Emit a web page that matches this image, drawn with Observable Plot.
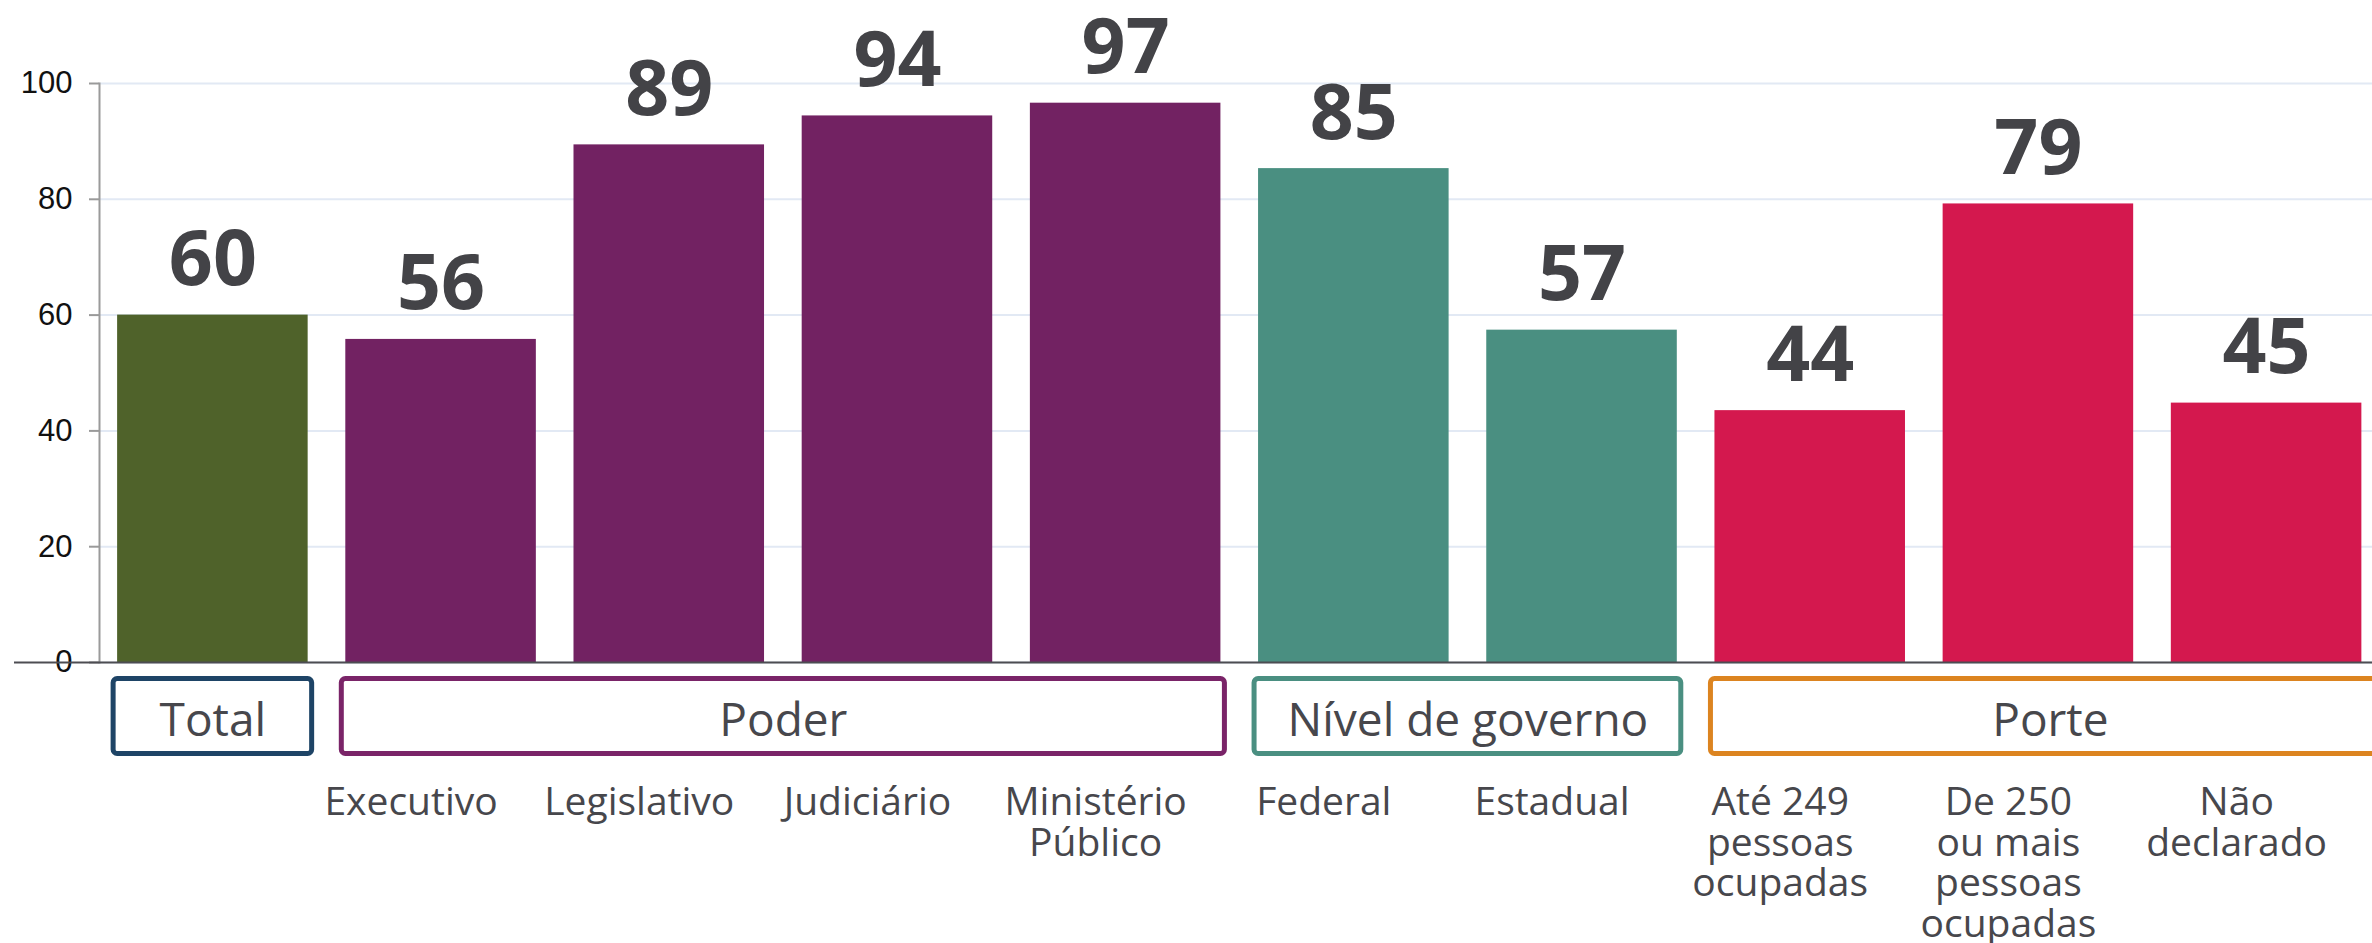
<!DOCTYPE html>
<html>
<head>
<meta charset="utf-8">
<script src="https://cdn.jsdelivr.net/npm/d3@7"></script>
<script src="https://cdn.jsdelivr.net/npm/@observablehq/plot@0.6"></script>
<style>
  html, body { margin: 0; padding: 0; background: #ffffff; overflow: hidden; }
</style>
</head>
<body>
<div id="chart"></div>
<script>
// ---- data ----
const categories = ["Total", "Executivo", "Legislativo", "Judiciário", "Ministério Público",
  "Federal", "Estadual", "Até 249 pessoas ocupadas", "De 250 ou mais pessoas ocupadas", "Não declarado"];
const bottomLabels = ["", "Executivo", "Legislativo", "Judiciário", "Ministério\nPúblico",
  "Federal", "Estadual", "Até 249\npessoas\nocupadas", "De 250\nou mais\npessoas\nocupadas", "Não\ndeclarado"];
const values = [60.0, 55.8, 89.4, 94.4, 96.6, 85.3, 57.4, 43.5, 79.2, 44.8];
const valueLabels = ["60", "56", "89", "94", "97", "85", "57", "44", "79", "45"];
const categoryGroup = ["Total", "Poder", "Poder", "Poder", "Poder",
  "Nível de governo", "Nível de governo", "Porte", "Porte", "Porte"];
const groupNames = ["Total", "Poder", "Nível de governo", "Porte"];
const groupBarColors = ["#4f622a", "#722262", "#4a8f81", "#d4184e"];
const groupBoxColors = ["#1e4466", "#7a2468", "#4a8f81", "#dc8420"];
const yTicks = [0, 20, 40, 60, 80, 100];

// ---- tables built from the arrays ----
const data = categories.map((c, i) => ({
  category: c, value: values[i], label: valueLabels[i], bottom: bottomLabels[i],
  group: categoryGroup[i], color: groupBarColors[groupNames.indexOf(categoryGroup[i])]
}));
const groups = groupNames.map((g, i) => {
  const members = data.filter(d => d.group === g);
  return {name: g, first: members[0].category, last: members[members.length - 1].category, box: groupBoxColors[i]};
});
const openGroups = groups.filter(g => g.name !== "Porte");
const lastGroup = groups.filter(g => g.name === "Porte");

const textFont = "'Open Sans', 'Noto Sans', sans-serif";
const textColor = "#47474c";

// centre a group label between its first and last band
function centerOnGroup(src) {
  return (index, scales, vals, dims, ctx, next) => {
    const sx = scales.x;
    const x = Array.from(vals.x, (v, i) => v + (sx(src[i].last) - sx(src[i].first)) / 2);
    return next(index, scales, {...vals, x}, dims, ctx);
  };
}

const boxStyle = {
  x1: "first", x2: "last", y1: 0, y2: 0,
  insetTop: 16.5, insetBottom: -91.5, insetLeft: -4,
  rx: 4, fill: "none", stroke: "box", strokeWidth: 5
};
const groupTextStyle = {
  x: "first", text: "name", frameAnchor: "bottom", lineAnchor: "bottom", dy: 73,
  fontSize: 46, fontFamily: textFont, fill: textColor
};

const chart = Plot.plot({
  width: 2372,
  height: 943,
  marginLeft: 99,
  marginRight: 0,
  marginTop: 83,
  marginBottom: 281,
  style: {background: "#ffffff", fontFamily: textFont},
  x: {domain: categories, paddingInner: 0.165, paddingOuter: 0.063, align: 0.63, round: false, axis: null},
  y: {domain: [0, 100], label: null},
  color: {type: "identity"},
  marks: [
    Plot.gridY(yTicks, {stroke: "#e2e9f4", strokeOpacity: 1, strokeWidth: 2}),
    Plot.frame({anchor: "left", stroke: "#9a9a9a", strokeWidth: 2}),
    Plot.barY(data, {x: "category", y: "value", fill: "color"}),
    Plot.axisY({
      ticks: yTicks, tickSize: 10, tickPadding: 17, label: null,
      fontSize: 31, fontFamily: "'Liberation Sans', Arial, sans-serif",
      fill: "#111111", stroke: "#9a9a9a", strokeWidth: 2
    }),
    Plot.ruleY([0], {insetLeft: -85, stroke: "#4d4d52", strokeWidth: 2}),
    Plot.text(data, {
      x: "category", y: "value", text: "label", lineAnchor: "bottom", dy: -30,
      fontSize: 77, fontWeight: 700, fontFamily: textFont, fill: "#434347"
    }),
    Plot.text(data, {
      x: "category", text: "bottom", frameAnchor: "bottom", lineAnchor: "top",
      dy: 123, dx: -30, fontSize: 39, lineHeight: 1.05, fontFamily: textFont, fill: textColor
    }),
    Plot.rect(openGroups, {...boxStyle, insetRight: -4}),
    Plot.rect(lastGroup, {...boxStyle, insetRight: -30}),
    Plot.text(openGroups, {...groupTextStyle, render: centerOnGroup(openGroups)}),
    Plot.text(lastGroup, {...groupTextStyle, dx: 12, render: centerOnGroup(lastGroup)})
  ]
});
document.getElementById("chart").appendChild(chart);
</script>
</body>
</html>
